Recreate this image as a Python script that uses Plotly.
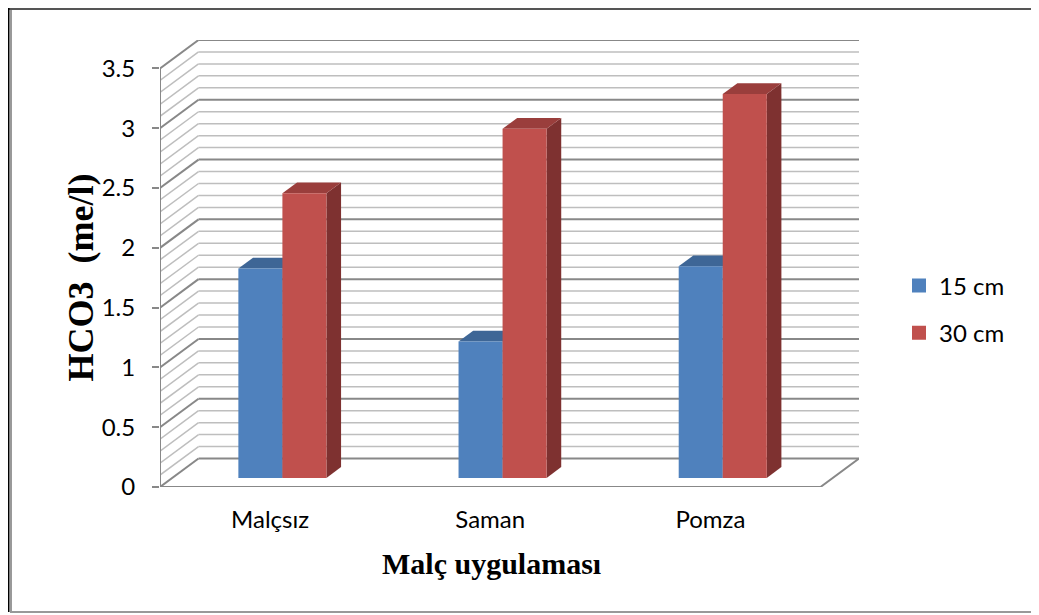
import plotly.graph_objects as go

# ---- data ----
categories = ['Malçsız', 'Saman', 'Pomza']
series_names = ['15 cm', '30 cm']
values_15cm = [1.75, 1.14, 1.77]
values_30cm = [2.38, 2.92, 3.21]
y_tick_vals = [0, 0.5, 1, 1.5, 2, 2.5, 3, 3.5]
y_tick_text = ['0', '0.5', '1', '1.5', '2', '2.5', '3', '3.5']
y_title = 'HCO3\u00a0 (me/l)'
x_title = 'Malç uygulaması'

# ---- geometry / style ----
W, H = 1039, 615
OFF = 8                     # page body margin offset
PL, PT = 160, 40            # desired on-screen plot-area left / top
PW, PH = 699, 447           # plot-area size in px
L, T = PL - OFF, PT - OFF
R = W - L - PW
B = H - T - PH
DX = 0.1749       # depth shift in x (category units)
DY = 0.238        # depth shift in y (value units)
D1, D2 = 0.32, 0.70   # bar depth span (fraction of floor depth)
BAR_W = 0.2
YMAX = 3.5
x_range = [-0.5, len(categories) - 0.5 + DX]
y_range = [0, YMAX + DY]

colors = {
    '15 cm': dict(front='#4F81BD', top='#3E6696', side='#2F4F75'),
    '30 cm': dict(front='#C0504D', top='#9A3E3C', side='#7E3130'),
}
MAJOR = '#888888'
MINOR = '#BEBEBE'
FONT = 'Lato'
FS = 24

fig = go.Figure()

def line(xs, ys, color, width):
    fig.add_trace(go.Scatter(x=xs, y=ys, mode='lines', line=dict(color=color, width=width),
                             hoverinfo='skip', showlegend=False))

def poly(xs, ys, color):
    fig.add_trace(go.Scatter(x=xs + [xs[0]], y=ys + [ys[0]], mode='lines', fill='toself',
                             fillcolor=color, line=dict(width=0, color=color),
                             hoverinfo='skip', showlegend=False))

x_left = -0.5
x_right = len(categories) - 0.5
grid_vals = [round(v * 0.1, 2) for v in range(int(YMAX * 10) + 1)]
for v in grid_vals:
    major = abs(v * 2 - round(v * 2)) < 1e-6
    col, wd = (MAJOR, 2) if major else (MINOR, 1.5)
    line([x_left + DX, x_right + DX], [v + DY, v + DY], col, wd)   # back wall
    line([x_left, x_left + DX], [v, v + DY], col, wd)               # side wall

line([x_left, x_right, x_right + DX], [0, 0, DY], MAJOR, 2)        # floor edges
line([x_left, x_left], [0, YMAX], MAJOR, 2)                         # front axis line

offsets = [-BAR_W, 0.0]
for i, cat in enumerate(categories):
    for s, (name, vals) in enumerate(zip(series_names, [values_15cm, values_30cm])):
        v = vals[i]
        c = colors[name]
        x0 = i + offsets[s]
        x1 = x0 + BAR_W
        poly([x1 + D1 * DX, x1 + D2 * DX, x1 + D2 * DX, x1 + D1 * DX],
             [D1 * DY, D2 * DY, v + D2 * DY, v + D1 * DY], c['side'])
        poly([x0 + D1 * DX, x1 + D1 * DX, x1 + D2 * DX, x0 + D2 * DX],
             [v + D1 * DY, v + D1 * DY, v + D2 * DY, v + D2 * DY], c['top'])
        poly([x0 + D1 * DX, x1 + D1 * DX, x1 + D1 * DX, x0 + D1 * DX],
             [D1 * DY, D1 * DY, v + D1 * DY, v + D1 * DY], c['front'])

for name in series_names:
    fig.add_trace(go.Scatter(x=[None], y=[None], mode='markers', name=name,
                             legendgroup=name,
                             marker=dict(symbol='square', size=14, color=colors[name]['front'])))

def px_x(p):
    return (p - PL) / PW
def px_y(p):
    return 1 - (p - PT) / PH

fig.update_layout(
    width=W, height=H,
    margin=dict(l=L, r=R, t=T, b=B, pad=0),
    paper_bgcolor='white', plot_bgcolor='white',
    font=dict(family=FONT, size=FS, color='black'),
    xaxis=dict(range=x_range, showgrid=False, zeroline=False, showline=False,
               tickmode='array', tickvals=list(range(len(categories))), ticktext=categories,
               ticks='', ticklabelstandoff=16, tickfont=dict(family=FONT, size=FS)),
    yaxis=dict(range=y_range, showgrid=False, zeroline=False, showline=False,
               tickmode='array', tickvals=y_tick_vals, ticktext=y_tick_text,
               ticks='outside', ticklen=7, tickwidth=2, tickcolor=MAJOR,
               ticklabelstandoff=12, tickfont=dict(family=FONT, size=FS)),
    showlegend=True,
    legend=dict(x=px_x(899), y=px_y(309.5), xanchor='left', yanchor='middle',
                font=dict(family=FONT, size=FS), tracegroupgap=13,
                bgcolor='rgba(0,0,0,0)', itemwidth=30),
    annotations=[
        dict(text=x_title, xref='paper', yref='paper', x=px_x(491), y=px_y(563),
             xanchor='center', yanchor='middle', showarrow=False,
             font=dict(family='Liberation Serif', size=30, color='black', weight='bold')),
        dict(text=y_title, xref='paper', yref='paper', x=px_x(80), y=px_y(277.5),
             xanchor='center', yanchor='middle', showarrow=False, textangle=-90,
             font=dict(family='Liberation Serif', size=36, color='black', weight='bold')),
    ],
    shapes=[
        dict(type='rect', xref='paper', yref='paper', x0=px_x(11), x1=px_x(1035),
             y0=px_y(612), y1=px_y(9), line=dict(color='#999999', width=2), layer='below'),
        dict(type='line', xref='paper', yref='paper', x0=px_x(9), x1=px_x(1035),
             y0=px_y(9), y1=px_y(9), line=dict(color='#555555', width=2)),
        dict(type='line', xref='paper', yref='paper', x0=px_x(8), x1=px_x(8),
             y0=px_y(612), y1=px_y(8), line=dict(color='black', width=3)),
    ],
)

fig.write_html('out.html')
